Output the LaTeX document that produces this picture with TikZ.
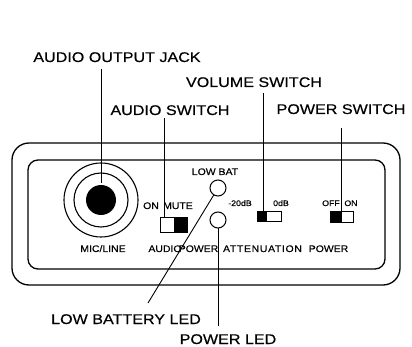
\documentclass[tikz,border=0pt]{standalone}
\usepackage{fontspec}
\newfontfamily\bigfam[FakeStretch=1.15,FakeBold=0.4]{Liberation Sans}
\newfontfamily\smallfam[FakeStretch=1.1,FakeBold=0.3]{Liberation Sans}
\begin{document}
\begin{tikzpicture}[x=1pt,y=-1pt,
  biglab/.style={font=\bigfam\fontsize{14}{16}\selectfont, inner sep=0pt, anchor=base},
  smalllab/.style={font=\smallfam\fontsize{9.5}{11}\selectfont, inner sep=0pt, anchor=base},
  tinylab/.style={font=\smallfam\fontsize{8}{9}\selectfont, inner sep=0pt, anchor=base},
  conn/.style={line width=0.9pt},
  panel/.style={line width=1.3pt},
  swbox/.style={draw, line width=1pt, inner sep=0pt},
  led/.style={draw, circle, line width=1pt, minimum size=16pt, inner sep=0pt}]
\useasboundingbox (0,0) rectangle (412,347);
% panel outlines
\draw[panel, rounded corners=17pt] (12,143) rectangle (400,285);
\draw[panel, rounded corners=10pt] (28,160) rectangle (385,269);
% jack
\node[draw, circle, line width=1.1pt, minimum size=74pt, inner sep=0pt] (jackout) at (101,200) {};
\node[draw, circle, line width=1.1pt, minimum size=54pt, inner sep=0pt] (jackin) at (101,200) {};
\node[fill, circle, minimum size=30pt, inner sep=0pt] (jack) at (101,200) {};
% switches
\node[swbox, minimum width=27pt, minimum height=15pt] (asw) at (174,225.5) {};
\fill (asw.north) rectangle (asw.south east);
\node[swbox, minimum width=24pt, minimum height=10pt] (vsw) at (269,217) {};
\fill (vsw.north west) rectangle ([xshift=-2pt]vsw.south);
\node[swbox, minimum width=23pt, minimum height=11pt] (psw) at (341.5,217.5) {};
\fill (psw.north west) rectangle (psw.south);
% LEDs
\node[led] (lowled) at (218,188) {};
\node[led] (pwrled) at (218,220) {};
% top labels
\node[biglab] (jacklab) at (117,62) {AUDIO OUTPUT JACK};
\node[biglab] (vollab) at (254,87) {VOLUME SWITCH};
\node[biglab] (audlab) at (170,115) {AUDIO SWITCH};
\node[biglab] (pwrlab) at (341,114) {POWER SWITCH};
% bottom labels
\node[biglab] (lbllab) at (126,324) {LOW BATTERY LED};
\node[biglab] (pledlab) at (228,344) {POWER LED};
% small panel labels
\node[smalllab] (mic) at (103,252) {MIC/LINE};
\node[smalllab] (on1) at (151,209) {ON};
\node[smalllab] (mute) at (178,209) {MUTE};
\node[smalllab] (lowbat) at (215,175) {LOW BAT};
\node[tinylab] (m20) at (240,206) {-20dB};
\node[tinylab] (zdb) at (281,206) {0dB};
\node[tinylab] (off) at (331,206) {OFF};
\node[tinylab] (on2) at (351,206) {ON};
\node[smalllab] (audio) at (165,252) {AUDIO};
\node[smalllab] (power1) at (198.5,252) {POWER};
\node[smalllab] (atten) at (262.5,252) {\addfontfeature{LetterSpace=7}ATTENUATION};
\node[smalllab] (power2) at (328.5,252) {POWER};
% connectors
\draw[conn] ([yshift=-7pt]jacklab.south -| jack.north) -- ([yshift=2pt]jack.north);
\draw[conn] ([yshift=-6pt]vollab.south -| 263,0) -- (vsw.north -| 263,0);
\draw[conn] ([yshift=-3pt]audlab.south -| 164,0) -- (asw.north -| 164,0);
\draw[conn] ([yshift=-14pt]pwrlab.south -| psw.north) -- (psw.north);
\coordinate (lbtip) at (148,303);
\draw[conn] (lowled) -- (lbtip);
\coordinate (ptip) at (219,326);
\draw[conn] (pwrled.south) -- (pwrled.south |- ptip);
\end{tikzpicture}
\end{document}
